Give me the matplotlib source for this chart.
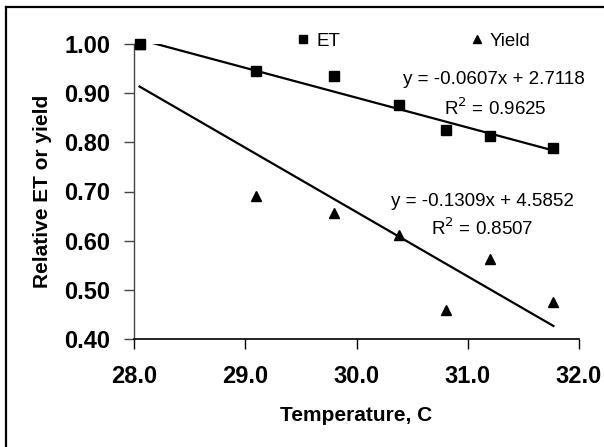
import numpy as np
import matplotlib
matplotlib.use("Agg")
import matplotlib.pyplot as plt
from matplotlib.lines import Line2D

plt.rcParams['font.family'] = ['Liberation Sans', 'DejaVu Sans']

# -------------------------------
# Data
# -------------------------------
temp = [28.05, 29.1, 29.8, 30.38, 30.8, 31.2, 31.77]
rel_et = [1.000, 0.945, 0.935, 0.875, 0.825, 0.813, 0.788]
rel_yield = [1.000, 0.691, 0.656, 0.612, 0.459, 0.562, 0.475]

# trendline coefficients (slope, intercept, R^2) as printed on the chart
et_fit = (-0.0607, 2.7118, 0.9625)
yield_fit = (-0.1309, 4.5852, 0.8507)

xticks = [28.0, 29.0, 30.0, 31.0, 32.0]
yticks = [0.40, 0.50, 0.60, 0.70, 0.80, 0.90, 1.00]

# -------------------------------
# Figure
# -------------------------------
W, H = 604, 447
fig = plt.figure(figsize=(W / 100, H / 100), dpi=100)
ax = fig.add_axes([134 / W, 1 - 339 / H, (579 - 134) / W, (339 - 44) / H])

# outer chart frame (only left and top edges visible)
fig.add_artist(Line2D([6 / W, 6 / W], [0, 1 - 7 / H], transform=fig.transFigure,
                      color='black', lw=1.6))
fig.add_artist(Line2D([6 / W, 1], [1 - 7 / H, 1 - 7 / H], transform=fig.transFigure,
                      color='black', lw=1.6))

xs = np.array([min(temp), max(temp)])
ax.plot(xs, yield_fit[0] * xs + yield_fit[1], color='black', lw=1.6, zorder=2)
ax.plot(xs, et_fit[0] * xs + et_fit[1], color='black', lw=1.6, zorder=2)

h_y, = ax.plot(temp, rel_yield, linestyle='none', marker='^', color='black',
               markersize=7, clip_on=False, zorder=3, label='Yield')
h_et, = ax.plot(temp, rel_et, linestyle='none', marker='s', color='black',
                markersize=6.5, clip_on=False, zorder=4, label='ET')

ax.set_xlim(28.0, 32.0)
ax.set_ylim(0.40, 1.00)
ax.set_xticks(xticks)
ax.set_yticks(yticks)
ax.set_xticklabels(['%.1f' % v for v in xticks])
ax.set_yticklabels(['%.2f' % v for v in yticks])

for s in ['top', 'right']:
    ax.spines[s].set_visible(False)
ax.spines['left'].set_color('#444444')
ax.spines['bottom'].set_color('black')
ax.spines['left'].set_linewidth(1.0)
ax.spines['bottom'].set_linewidth(1.2)

ax.tick_params(axis='y', direction='out', length=7, width=1, pad=10,
               labelsize=17, color='#444444')
ax.tick_params(axis='x', direction='out', length=7, width=1, pad=12,
               labelsize=17)
for lab in ax.get_xticklabels() + ax.get_yticklabels():
    lab.set_fontweight('bold')

ax.set_xlabel('Temperature, C', fontsize=15, fontweight='bold', labelpad=13)
ax.set_ylabel('Relative ET or yield', fontsize=15, fontweight='bold', labelpad=9)

# equations (positions given in pixels from top-left)
eq_fs = 13.5
labels = [
    (494, 80, 'y = %.4fx + %.4f' % (et_fit[0], et_fit[1])),
    (495, 108, 'R$^2$ = %.4f' % et_fit[2]),
    (482, 201, 'y = %.4fx + %.4f' % (yield_fit[0], yield_fit[1])),
    (482, 228, 'R$^2$ = %.4f' % yield_fit[2]),
]
for px, py, s in labels:
    fig.text(px / W, 1 - py / H, s, fontsize=eq_fs, ha='center', va='center')

leg = fig.legend(handles=[h_et, h_y], loc='center left',
                 bbox_to_anchor=(288 / W, 1 - 41 / H), ncol=2, frameon=False,
                 fontsize=13.5, handlelength=0.6, handletextpad=0.4,
                 columnspacing=7.0, markerscale=0.8, borderpad=0)

fig.savefig('out.png', dpi=100)
